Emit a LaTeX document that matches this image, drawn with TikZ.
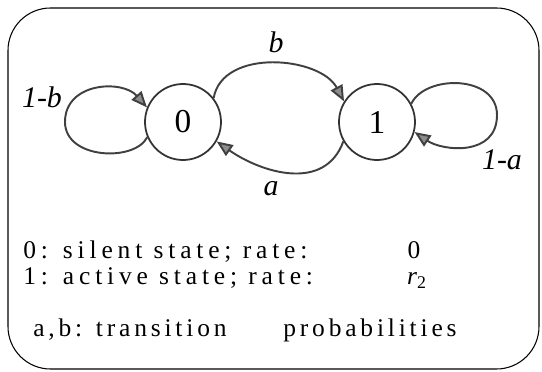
\documentclass[tikz,border=0pt]{standalone}
\usepackage{fontspec}
\setmainfont{Liberation Serif}
\newfontfamily\spacedfont[LetterSpace=19]{Liberation Serif}
\newfontfamily\lessspacedfont[LetterSpace=15]{Liberation Serif}
\usetikzlibrary{arrows.meta,calc}

\begin{document}
\begin{tikzpicture}[>={Triangle[length=0.32cm,width=0.26cm,fill=black!45]},
  statenode/.style={circle,draw=black!80,line width=1pt,minimum size=1.52cm,inner sep=0pt,font=\fontsize{19}{20}\selectfont},
  trarrow/.style={->,draw=black!75,line width=1.1pt},
  trlabel/.style={inner sep=0pt,font=\fontsize{17}{18}\selectfont\itshape},
  legend/.style={anchor=base west,inner sep=0pt,font=\spacedfont\fontsize{14.5}{16}\selectfont}]
  \useasboundingbox (0,0) rectangle (10.84,7.44);
  \draw[line width=0.6pt,rounded corners=0.85cm] (0.16,0.06) rectangle (10.78,7.28);
  % the two states
  \node[statenode] (s0) at (3.66,5.00) {0};
  \node[statenode] (s1) at (7.54,5.00) {1};
  % transitions between them
  \draw[trarrow] (s0.38) to[out=80,in=118,looseness=1.0] (s1.148);
  \draw[trarrow] (s1.210) to[out=250,in=-35,looseness=1.1] (s0.-30);
  % self loops
  \draw[trarrow] (s0.203) .. controls (2.70,4.20) and (1.30,4.25) .. (1.30,5.00)
    .. controls (1.30,5.80) and (2.45,5.85) .. (s0.158);
  \draw[trarrow] (s1.28) .. controls (8.50,5.95) and (9.94,5.95) .. (9.94,5.14)
    .. controls (9.94,4.30) and (8.85,4.42) .. (s1.-15);
  \node[trlabel] (lb) at (5.52,6.60) {b};
  \node[trlabel] (la) at (5.42,3.66) {a};
  \node[trlabel] (lbb) at (0.84,5.50) {1-b};
  \node[trlabel] (laa) at (10.04,4.24) {1-a};
  % legend
  \node[legend] (t1) at (0.46,2.26) {0: silent state; rate:};
  \node[legend,anchor=base] (r1) at (8.28,2.26) {0};
  \node[legend] (t2) at (0.46,1.74) {1: active state; rate:};
  \node[legend,anchor=base] (r2) at (8.34,1.74) {\itshape r\textsubscript{\upshape 2}};
  \node[legend,font=\lessspacedfont\fontsize{14.5}{16}\selectfont] (t3) at (0.66,0.70) {a,b: transition};
  \node[legend,font=\lessspacedfont\fontsize{14.5}{16}\selectfont] (t4) at (5.66,0.70) {probabilities};
\end{tikzpicture}
\end{document}
